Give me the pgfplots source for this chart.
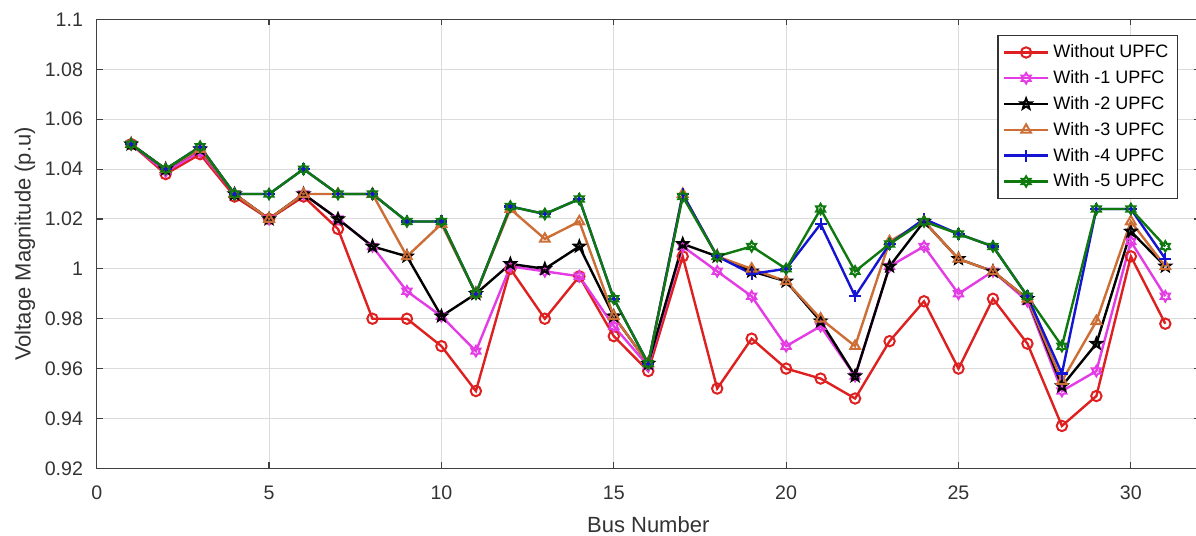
\documentclass[border=0pt]{standalone}
\usepackage{fontspec}
\setmainfont{Liberation Sans}
\usepackage{pgfplots}
\usepackage{pgfplotstable}
\pgfplotsset{compat=1.18}
\usetikzlibrary{plotmarks}

\definecolor{cRed}{RGB}{222,32,32}
\definecolor{cMag}{RGB}{228,60,228}
\definecolor{cBlk}{RGB}{0,0,0}
\definecolor{cOra}{RGB}{205,110,55}
\definecolor{cBlu}{RGB}{20,20,210}
\definecolor{cGrn}{RGB}{15,120,15}

\pgfdeclareplotmark{hexagram}{%
  \pgfpathmoveto{\pgfpointpolar{90}{\pgfplotmarksize}}%
  \pgfpathlineto{\pgfpointpolar{120}{0.577\pgfplotmarksize}}%
  \pgfpathlineto{\pgfpointpolar{150}{\pgfplotmarksize}}%
  \pgfpathlineto{\pgfpointpolar{180}{0.577\pgfplotmarksize}}%
  \pgfpathlineto{\pgfpointpolar{210}{\pgfplotmarksize}}%
  \pgfpathlineto{\pgfpointpolar{240}{0.577\pgfplotmarksize}}%
  \pgfpathlineto{\pgfpointpolar{270}{\pgfplotmarksize}}%
  \pgfpathlineto{\pgfpointpolar{300}{0.577\pgfplotmarksize}}%
  \pgfpathlineto{\pgfpointpolar{330}{\pgfplotmarksize}}%
  \pgfpathlineto{\pgfpointpolar{0}{0.577\pgfplotmarksize}}%
  \pgfpathlineto{\pgfpointpolar{30}{\pgfplotmarksize}}%
  \pgfpathlineto{\pgfpointpolar{60}{0.577\pgfplotmarksize}}%
  \pgfpathclose\pgfusepathqstroke}
\pgfdeclareplotmark{pentagram}{%
  \pgfpathmoveto{\pgfpointpolar{90}{\pgfplotmarksize}}%
  \pgfpathlineto{\pgfpointpolar{126}{0.42\pgfplotmarksize}}%
  \pgfpathlineto{\pgfpointpolar{162}{\pgfplotmarksize}}%
  \pgfpathlineto{\pgfpointpolar{198}{0.42\pgfplotmarksize}}%
  \pgfpathlineto{\pgfpointpolar{234}{\pgfplotmarksize}}%
  \pgfpathlineto{\pgfpointpolar{270}{0.42\pgfplotmarksize}}%
  \pgfpathlineto{\pgfpointpolar{306}{\pgfplotmarksize}}%
  \pgfpathlineto{\pgfpointpolar{342}{0.42\pgfplotmarksize}}%
  \pgfpathlineto{\pgfpointpolar{18}{\pgfplotmarksize}}%
  \pgfpathlineto{\pgfpointpolar{54}{0.42\pgfplotmarksize}}%
  \pgfpathclose\pgfusepathqstroke}

\pgfplotstableread{
x  r     m     k     o     b     g
1  1.050 1.050 1.050 1.050 1.050 1.050
2  1.038 1.039 1.040 1.040 1.040 1.040
3  1.046 1.047 1.048 1.048 1.049 1.049
4  1.029 1.030 1.030 1.030 1.030 1.030
5  1.020 1.020 1.020 1.020 1.030 1.030
6  1.029 1.030 1.030 1.030 1.040 1.040
7  1.016 1.020 1.020 1.030 1.030 1.030
8  0.980 1.009 1.009 1.030 1.030 1.030
9  0.980 0.991 1.005 1.005 1.019 1.019
10 0.969 0.981 0.981 1.018 1.019 1.019
11 0.951 0.967 0.990 0.990 0.990 0.990
12 1.000 1.001 1.002 1.024 1.025 1.025
13 0.980 0.999 1.000 1.012 1.022 1.022
14 0.997 0.997 1.009 1.019 1.028 1.028
15 0.973 0.977 0.981 0.981 0.988 0.988
16 0.959 0.961 0.962 0.962 0.962 0.962
17 1.005 1.009 1.010 1.030 1.030 1.029
18 0.952 0.999 1.005 1.005 1.005 1.005
19 0.972 0.989 0.999 1.000 0.998 1.009
20 0.960 0.969 0.995 0.995 1.000 1.000
21 0.956 0.977 0.979 0.980 1.018 1.024
22 0.948 0.957 0.957 0.969 0.989 0.999
23 0.971 1.001 1.001 1.011 1.010 1.010
24 0.987 1.009 1.019 1.019 1.020 1.019
25 0.960 0.990 1.004 1.004 1.014 1.014
26 0.988 0.999 0.999 0.999 1.009 1.009
27 0.970 0.987 0.988 0.988 0.989 0.989
28 0.937 0.951 0.953 0.955 0.958 0.969
29 0.949 0.959 0.970 0.979 1.024 1.024
30 1.005 1.011 1.015 1.019 1.024 1.024
31 0.978 0.989 1.001 1.001 1.004 1.009
}\datatable

\begin{document}
\begin{tikzpicture}
\begin{axis}[
  name=ax,
  scale only axis,
  width=551.5pt, height=224.4pt,
  xmin=0, xmax=32, ymin=0.92, ymax=1.1,
  xtick={0,5,10,15,20,25,30},
  ytick={0.92,0.94,0.96,0.98,1,1.02,1.04,1.06,1.08,1.1},
  yticklabels={0.92,0.94,0.96,0.98,1,1.02,1.04,1.06,1.08,1.1},
  grid=major,
  major grid style={draw=black!14, line width=0.5pt},
  tick align=inside,
  major tick length=3pt,
  axis line style={draw=black!75, line width=0.6pt},
  tick style={draw=black!75, line width=0.6pt},
  /pgf/number format/assume math mode=true,
  tick label style={font=\fontsize{9.8}{11}\selectfont, text=black!80},
  xticklabel style={anchor=base, yshift=-15.8pt},
  yticklabel style={anchor=east, inner sep=0pt, xshift=-6.7pt},
  xlabel={Bus Number},
  ylabel={Voltage Magnitude (p.u)},
  label style={font=\fontsize{11}{13}\selectfont, text=black!80},
  xlabel style={at={(axis description cs:0.5,-0.1426)}, anchor=base},
  ylabel style={at={(axis description cs:-0.0598,0.5)}, anchor=base},
  legend style={at={(0.9802,0.9655)}, anchor=north east, draw=black!80,
    line width=0.6pt, fill=white, font=\fontsize{9}{10.5}\selectfont,
    inner xsep=2.5pt, inner ysep=2pt, row sep=0pt,
    nodes={text height=7pt, text depth=1.5pt, inner ysep=2.2pt, inner xsep=2pt}},
  legend cell align=left,
  legend image code/.code={\draw[mark repeat=2,mark phase=2] plot coordinates {(0pt,0pt)(11pt,0pt)(22pt,0pt)};},
  every axis plot/.append style={line width=1.2pt},
]
\addplot[color=cRed, mark=o, mark size=2.6pt, mark options={line width=1pt}] table[x=x,y=r]{\datatable};
\addlegendentry{Without UPFC}
\addplot[color=cMag, mark=hexagram, mark size=2.6pt, mark options={line width=1pt}] table[x=x,y=m]{\datatable};
\addlegendentry{With -1 UPFC}
\addplot[color=cBlk, mark=pentagram, mark size=2.8pt, mark options={line width=1pt}] table[x=x,y=k]{\datatable};
\addlegendentry{With -2 UPFC}
\addplot[color=cOra, mark=triangle, mark size=2.8pt, mark options={line width=1pt}] table[x=x,y=o]{\datatable};
\addlegendentry{With -3 UPFC}
\addplot[color=cBlu, mark=+, mark size=3pt, mark options={line width=1.1pt}] table[x=x,y=b]{\datatable};
\addlegendentry{With -4 UPFC}
\addplot[color=cGrn, mark=hexagram, mark size=2.6pt, mark options={line width=1pt}] table[x=x,y=g]{\datatable};
\addlegendentry{With -5 UPFC}
\end{axis}
\pgfresetboundingbox
\path ([xshift=-48.35pt,yshift=-33.35pt]ax.south west) rectangle ([xshift=-1.9pt,yshift=9.75pt]ax.north east);
\end{tikzpicture}
\end{document}
